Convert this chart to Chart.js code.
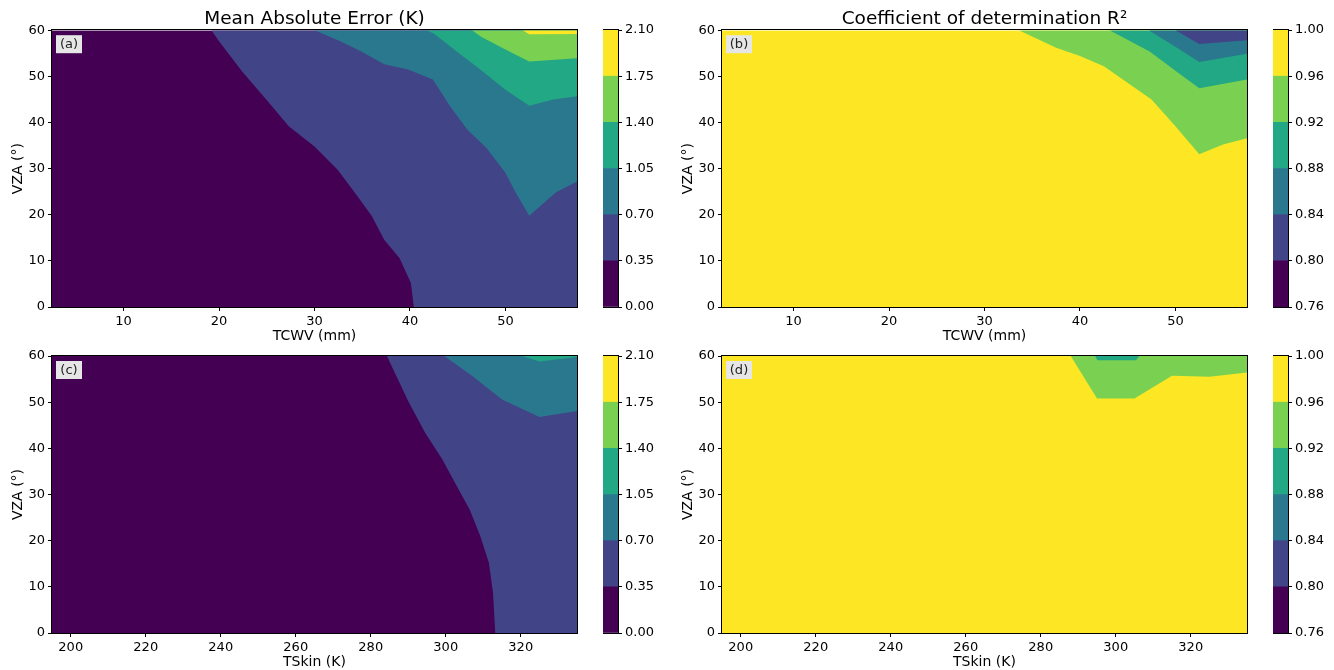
<!DOCTYPE html>
<html>
<head>
<meta charset="utf-8" />
<title>MAE and R2 maps</title>
<script src="https://cdn.jsdelivr.net/npm/chart.js@4.4.1/dist/chart.umd.min.js"></script>
<style>
  body { margin: 0; background: #fff; width: 1334px; height: 670px; overflow: hidden; position: relative; }
  canvas { position: absolute; }
</style>
</head>
<body>
<canvas id="mapA" width="600" height="345" style="left:0px;top:0px"></canvas>
<canvas id="mapB" width="600" height="345" style="left:670px;top:0px"></canvas>
<canvas id="mapC" width="600" height="345" style="left:0px;top:326px"></canvas>
<canvas id="mapD" width="600" height="345" style="left:670px;top:326px"></canvas>
<canvas id="cbA" width="70" height="345" style="left:603px;top:0px"></canvas>
<canvas id="cbB" width="70" height="345" style="left:1273px;top:0px"></canvas>
<canvas id="cbC" width="70" height="345" style="left:603px;top:326px"></canvas>
<canvas id="cbD" width="70" height="345" style="left:1273px;top:326px"></canvas>
<script>
// axis ranges and ticks
const tcwvRange = [2.5, 57.5];
const tskinRange = [195, 335];
const vzaRange = [0, 60];
const tcwvTicks = [10, 20, 30, 40, 50];
const tskinTicks = [200, 220, 240, 260, 280, 300, 320];
const vzaTicks = [0, 10, 20, 30, 40, 50, 60];

// contour levels (colorbars)
const maeLevels = [0.00, 0.35, 0.70, 1.05, 1.40, 1.75, 2.10];
const r2Levels = [0.76, 0.80, 0.84, 0.88, 0.92, 0.96, 1.00];
const viridis6 = ['#440154', '#414487', '#2a788e', '#22a884', '#7ad151', '#fde725'];

// (a) MAE vs TCWV : contour lines [tcwv, vza], region above/right is the next band up
const maeTcwv035 = [[19.2,60],[20,57.6],[22.4,51.1],[25.1,44.6],[27.3,39.2],[30,34.8],[32.4,29.8],[34,25.4],[36,19.7],[37.3,14.6],[38.9,10.6],[40.1,5.2],[40.4,0],[57.5,0]];
const maeTcwv070 = [[30,60],[32.7,57.6],[34.9,55.4],[37.3,52.6],[39.8,51.5],[42.4,49.3],[44.2,43.5],[46,38.5],[48,34.5],[50,29.1],[51.1,24.7],[52.5,19.8],[55.3,24.9],[57.5,27.2]];
const maeTcwv105 = [[41.7,60],[42.5,59.3],[45.2,54.9],[47.3,51.6],[50,47.1],[52.5,43.6],[55,45],[57.5,45.7]];
const maeTcwv140 = [[46.5,60],[47.5,58.5],[50,55.8],[52.5,53.2],[57.5,53.9]];
const maeTcwv175 = [[51.8,60],[52.5,59.1],[57.5,59.2]];

// (b) R2 vs TCWV : region above/right is the next band down
const r2Tcwv096 = [[33.6,60],[37.5,56.2],[40,54.4],[42.5,52.2],[47.5,45],[50,39.2],[52.5,33.1],[55,35.2],[57.5,36.6]];
const r2Tcwv092 = [[43.1,60],[47.3,55.4],[50,51.2],[52.5,47.4],[57.5,49.3]];
const r2Tcwv088 = [[47.2,60],[50,56.4],[52.5,53.1],[57.5,54.9]];
const r2Tcwv084 = [[50,60],[52.5,57.0],[57.5,57.8]];

// (c) MAE vs TSkin
const maeTskin035 = [[284.3,60],[290,50.2],[294.5,43.4],[299.1,37.6],[302.5,32.5],[306.4,26.7],[309.2,21.0],[311.5,15.2],[312.6,8.7],[313.2,0],[335,0]];
const maeTskin070 = [[299.6,60],[307,55.7],[315,50.6],[325,46.8],[335,48.1]];
const maeTskin105 = [[320.3,60],[325,58.8],[335,59.8]];

// (d) R2 vs TSkin
const r2Tskin096 = [[288,60],[295,50.8],[305,50.8],[315,55.7],[325,55.5],[335,56.4]];
const r2Tskin092 = [[294.5,60],[295.1,59.1],[305.4,59.1],[306.3,60]];

Chart.defaults.font.family = "'DejaVu Sans', sans-serif";
Chart.defaults.font.size = 13;
Chart.defaults.color = '#000';

// black box around plot area / colorbar
const framePlugin = {
    id: 'frame',
    afterDatasetsDraw(chart) {
        const a = chart.chartArea;
        const ctx = chart.ctx;
        ctx.save();
        ctx.strokeStyle = '#000';
        ctx.lineWidth = 1;
        ctx.strokeRect(Math.round(a.left) - 0.5, Math.round(a.top) - 0.5,
            Math.round(a.right - a.left) + 1, Math.round(a.bottom - a.top) + 1);
        ctx.restore();
    }
};

// "(a)" label in the top left corner
const tagPlugin = {
    id: 'panelTag',
    afterDatasetsDraw(chart, args, opts) {
        const a = chart.chartArea;
        const ctx = chart.ctx;
        ctx.save();
        ctx.fillStyle = '#e6e6e6';
        ctx.fillRect(a.left + 4, a.top + 5, 26, 18);
        ctx.fillStyle = '#222';
        ctx.font = "13px 'DejaVu Sans', sans-serif";
        ctx.textAlign = 'center';
        ctx.textBaseline = 'middle';
        ctx.fillText(opts.text, a.left + 17, a.top + 14.5);
        ctx.restore();
    }
};

function toPts(arr) {
    return arr.map(p => ({x: p[0], y: p[1]}));
}

function makeMap(id, cfg) {
    // base band covers whole plot, later bands painted on top
    const layers = [{line: [[cfg.xRange[0], vzaRange[0]], [cfg.xRange[1], vzaRange[0]]], color: cfg.baseColor}]
        .concat(cfg.bands);
    const n = layers.length;
    const datasets = layers.map((b, i) => ({
        data: toPts(b.line),
        fill: 'end',
        backgroundColor: b.color,
        borderColor: 'rgba(0,0,0,0)',
        borderWidth: 0,
        pointRadius: 0,
        tension: 0,
        order: n - i
    }));

    new Chart(document.getElementById(id), {
        type: 'line',
        data: {datasets: datasets},
        plugins: [framePlugin, tagPlugin],
        options: {
            responsive: false,
            animation: false,
            devicePixelRatio: 1,
            events: [],
            layout: {padding: {left: 0, right: 23, top: cfg.title ? 0 : 30, bottom: 0}},
            plugins: {
                legend: {display: false},
                tooltip: {enabled: false},
                title: {
                    display: !!cfg.title,
                    text: cfg.title,
                    fullSize: false,
                    color: '#000',
                    font: {size: 18.5, weight: 'normal'},
                    padding: {top: 8, bottom: 0}
                },
                panelTag: {text: cfg.tag}
            },
            scales: {
                x: {
                    type: 'linear',
                    min: cfg.xRange[0],
                    max: cfg.xRange[1],
                    afterFit: s => { s.height = 38; },
                    afterBuildTicks: s => { s.ticks = cfg.xTicks.map(v => ({value: v})); },
                    ticks: {padding: 3, maxRotation: 0, autoSkip: false},
                    grid: {drawOnChartArea: false, drawTicks: true, tickLength: 4, color: '#000'},
                    border: {display: false},
                    title: {display: true, text: cfg.xTitle, font: {size: 14}, padding: {top: 0, bottom: 0}}
                },
                y: {
                    type: 'linear',
                    min: vzaRange[0],
                    max: vzaRange[1],
                    afterFit: s => { s.width = 52; },
                    afterBuildTicks: s => { s.ticks = vzaTicks.map(v => ({value: v})); },
                    ticks: {padding: 3},
                    grid: {drawOnChartArea: false, drawTicks: true, tickLength: 4, color: '#000'},
                    border: {display: false},
                    title: {display: true, text: 'VZA (°)', font: {size: 14}, padding: {top: 10, bottom: 0}}
                }
            }
        }
    });
}

function makeColorbar(id, levels, padTop) {
    const datasets = levels.slice(0, -1).map((lo, i) => ({
        data: [[lo, levels[i + 1]]],
        backgroundColor: viridis6[i],
        borderWidth: 0,
        grouped: false,
        barPercentage: 1,
        categoryPercentage: 1
    }));
    new Chart(document.getElementById(id), {
        type: 'bar',
        data: {labels: [''], datasets: datasets},
        plugins: [framePlugin],
        options: {
            responsive: false,
            animation: false,
            devicePixelRatio: 1,
            events: [],
            layout: {padding: {left: 0, right: 0, top: padTop, bottom: 38}},
            plugins: {legend: {display: false}, tooltip: {enabled: false}},
            scales: {
                x: {display: false},
                y: {
                    position: 'right',
                    min: levels[0],
                    max: levels[levels.length - 1],
                    afterFit: s => { s.width = 55; },
                    afterBuildTicks: s => { s.ticks = levels.map(v => ({value: v})); },
                    ticks: {padding: 3, callback: v => Number(v).toFixed(2)},
                    grid: {drawOnChartArea: false, drawTicks: true, tickLength: 4, color: '#000'},
                    border: {display: false}
                }
            }
        }
    });
}

makeMap('mapA', {
    title: 'Mean Absolute Error (K)', tag: '(a)', xTitle: 'TCWV (mm)',
    xRange: tcwvRange, xTicks: tcwvTicks, baseColor: viridis6[0],
    bands: [
        {line: maeTcwv035, color: viridis6[1]},
        {line: maeTcwv070, color: viridis6[2]},
        {line: maeTcwv105, color: viridis6[3]},
        {line: maeTcwv140, color: viridis6[4]},
        {line: maeTcwv175, color: viridis6[5]}
    ]
});
makeMap('mapB', {
    title: 'Coefficient of determination R²', tag: '(b)', xTitle: 'TCWV (mm)',
    xRange: tcwvRange, xTicks: tcwvTicks, baseColor: viridis6[5],
    bands: [
        {line: r2Tcwv096, color: viridis6[4]},
        {line: r2Tcwv092, color: viridis6[3]},
        {line: r2Tcwv088, color: viridis6[2]},
        {line: r2Tcwv084, color: viridis6[1]}
    ]
});
makeMap('mapC', {
    title: '', tag: '(c)', xTitle: 'TSkin (K)',
    xRange: tskinRange, xTicks: tskinTicks, baseColor: viridis6[0],
    bands: [
        {line: maeTskin035, color: viridis6[1]},
        {line: maeTskin070, color: viridis6[2]},
        {line: maeTskin105, color: viridis6[3]}
    ]
});
makeMap('mapD', {
    title: '', tag: '(d)', xTitle: 'TSkin (K)',
    xRange: tskinRange, xTicks: tskinTicks, baseColor: viridis6[5],
    bands: [
        {line: r2Tskin096, color: viridis6[4]},
        {line: r2Tskin092, color: viridis6[3]}
    ]
});

makeColorbar('cbA', maeLevels, 30);
makeColorbar('cbB', r2Levels, 30);
makeColorbar('cbC', maeLevels, 30);
makeColorbar('cbD', r2Levels, 30);
</script>
</body>
</html>
